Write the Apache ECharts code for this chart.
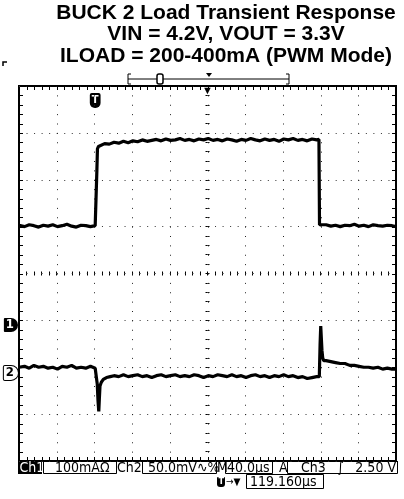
<!DOCTYPE html>
<html><head><meta charset="utf-8">
<script src="https://cdn.jsdelivr.net/npm/echarts@6/dist/echarts.min.js"></script>
<style>html,body{margin:0;padding:0;background:#fff}#c{width:404px;height:499px}</style>
</head><body><div id="c"></div>
<script>
// Scope settings: 40 µs/div over 10 divisions; screen centre sits 119.16 µs after the trigger
const TIME_PER_DIV = 40;
const TRIG_TO_CENTER = 119.16;
// Ch1: load current, 100 mA/div, ground marker 1.1 div below centre
const CH1_PER_DIV = 100, CH1_POS = -1.1;
// Ch2: output voltage (AC), 50 mV/div, ground marker 2.12 div below centre
const CH2_PER_DIV = 50, CH2_POS = -2.12;

// Ch1 load current (time in µs from trigger, current in mA)
const ch1Time = [-80.8,-75,-70,-65,-60,-55,-50,-45,-40,-35,-30,-25,-20,-15,-10,-5,0,1.2,1.8,2.4,3.5,
  5,10,15,20,25,30,35,40,45,50,55,60,65,70,75,80,85,90,95,100,105,110,115,120,125,130,135,140,145,150,
  155,160,165,170,175,180,185,190,195,200,205,210,215,220,225,230,235,237.4,238.0,
  240,245,250,255,260,265,270,275,280,285,290,295,300,305,310,315,319.2];
const ch1Current = [213,210,214,212,209,213,211,214,210,212,215,211,209,213,212,210,212,214,330,376,381,
  384,387,386,390,388,392,389,393,391,395,392,394,396,393,397,394,395,398,394,396,393,397,395,398,394,396,393,397,395,392,
  396,394,398,395,393,397,394,396,392,397,395,398,394,396,393,397,395,396,214,
  212,214,211,213,210,213,212,215,211,213,210,214,212,211,213,212,210];

// Ch2 output voltage deviation (time in µs from trigger, voltage in mV)
const ch2Time = [-80.8,-75,-70,-65,-60,-55,-50,-45,-40,-35,-30,-25,-20,-15,-10,-5,0,
  1.4,2.2,3.0,3.8,4.4,5.1,6.5,8.6,12,16,
  20,25,30,35,40,45,50,55,60,65,70,75,80,85,90,95,100,105,110,115,120,125,130,135,140,145,150,155,
  160,165,170,175,180,185,190,195,200,205,210,215,220,225,230,235,237.8,
  238.6,239.3,239.9,240.6,241.4,242.5,245,250,255,260,265,270,275,280,285,290,295,300,305,310,315,319.2];
const ch2Voltage = [6,7,5,8,6,7,5,6,4,7,6,8,5,6,5,7,5,
  5,-12,-30,-41,-28,-14,-10,-7,-5,-4,
  -3,-4,-2,-4,-3,-2,-4,-3,-5,-3,-2,-4,-3,-2,-4,-3,-4,-2,-3,-5,-3,-4,-2,-3,-4,
  -2,-4,-3,-5,-3,-2,-4,-3,-5,-3,-4,-2,-4,-3,-5,-4,-6,-5,-4,-4,
  30,50,38,24,16,13,13,12,11,10,10,8,8,7,6,6,5,6,4,5,4,4];

// Status readout text
const ch1Scale = '100mA\u03A9';
const ch2Scale = '50.0mV\u223F\u0025';
const timeScale = '40.0\u00B5s';
const trigSource = 'Ch3';
const trigLevel = '2.50 V';
const trigDelay = '119.160\u00B5s';

const toScreenTime = t => t - TRIG_TO_CENTER;
const ch1Data = ch1Time.map((t, i) => [toScreenTime(t), ch1Current[i]]);
const ch2Data = ch2Time.map((t, i) => [toScreenTime(t), ch2Voltage[i]]);

const HALF = 5 * TIME_PER_DIV;
const SUB = 5;               // graticule subdivisions per division
const FONT = '"DejaVu Sans Condensed", "Liberation Sans Narrow", sans-serif';
const tk = () => ({ color: '#000', width: 1 });

// Graticule pieces: 0 = dotted division line (time), 1 = top/bottom edge tick (time), 2 = left/right edge tick (div)
const graticule = [];
for (let k = 1; k < 10; k++) graticule.push([0, -HALF + k * TIME_PER_DIV]);
for (let i = 1; i < 10 * SUB; i++) graticule.push([1, -HALF + i * TIME_PER_DIV / SUB]);
for (let j = 1; j < 8 * SUB; j++) graticule.push([2, -4 + j / SUB]);

// graticule axes live in grid 0, traces and markers in grid 1 (same rectangle)
function timeAxis(extra) {
  return Object.assign({
    gridIndex: 0, type: 'value', min: -HALF, max: HALF, interval: TIME_PER_DIV,
    axisLine: { show: false, onZero: false },
    axisLabel: { show: false },
    splitLine: { show: false },
    axisTick: { show: false },
    minorTick: { show: false }
  }, extra);
}
function divAxis(extra) {
  return Object.assign({
    gridIndex: 0, type: 'value', min: -4, max: 4, interval: 1,
    axisLine: { show: false, onZero: false },
    axisLabel: { show: false },
    splitLine: { show: false },
    axisTick: { show: false },
    minorTick: { show: false }
  }, extra);
}
function centreTicks(inside) {
  return {
    axisLine: { show: false, onZero: true, onZeroAxisIndex: 0 },
    axisTick: { show: true, inside, length: 2, lineStyle: tk() },
    minorTick: { show: true, splitNumber: SUB, length: 2, lineStyle: tk() }
  };
}
function markerTimeAxis(label) {
  return {
    gridIndex: 1, type: 'value', position: 'top', min: -HALF, max: HALF,
    axisLine: { show: false, onZero: false },
    axisTick: { show: false }, minorTick: { show: false }, splitLine: { show: false },
    axisLabel: Object.assign({ show: true, inside: true }, label)
  };
}
function channelAxis(perDiv, pos, label) {
  return {
    gridIndex: 1, type: 'value', position: 'left',
    min: (-4 - pos) * perDiv, max: (4 - pos) * perDiv,
    axisLine: { show: false, onZero: false },
    axisTick: { show: false }, splitLine: { show: false },
    axisLabel: Object.assign({ show: true, customValues: [0], margin: 1,
      fontFamily: FONT, fontSize: 13, fontWeight: 'bold', padding: [1, 4, 0, 2] }, label)
  };
}

// draws one graticule piece through the time / division scales
function renderGraticule(params, api) {
  const cs = params.coordSys;
  const snap = v => Math.round(v) + 0.5;
  const kind = api.value(0), pos = api.value(1);
  const TICK = 4;
  const line = (x1, y1, x2, y2, extra) => ({ type: 'line', shape: { x1, y1, x2, y2 },
    style: Object.assign({ stroke: '#000', lineWidth: 1 }, extra || {}) });
  const top = cs.y, bottom = cs.y + cs.height, left = cs.x, right = cs.x + cs.width;
  if (kind === 0) {
    const x = snap(api.coord([pos, 0])[0]);
    return line(x, top, x, bottom, { stroke: '#222', lineDash: [1, cs.height / (8 * SUB) - 1] });
  }
  if (kind === 1) {
    const x = snap(api.coord([pos, 0])[0]);
    return { type: 'group', children: [line(x, top, x, top + TICK), line(x, bottom, x, bottom - TICK)] };
  }
  const y = snap(api.coord([0, pos])[1]);
  return { type: 'group', children: [line(left, y, left + TICK, y), line(right, y, right - TICK, y)] };
}

const chart = echarts.init(document.getElementById('c'), null, { renderer: 'canvas' });

const status = [];
function txt(x, y, s, opt) {
  status.push({ type: 'text', x, y, style: Object.assign({ text: s, fill: '#000', font: '14px ' + FONT, verticalAlign: 'middle' }, opt || {}) });
}
function openBox(x1, x2, y1, y2) {
  status.push({ type: 'polyline', shape: { points: [[x1, y1], [x1, y2], [x2, y2], [x2, y1]] }, style: { stroke: '#000', lineWidth: 1, fill: null } });
}
// first readout row
status.push({ type: 'rect', shape: { x: 18, y: 461, width: 24, height: 13 }, style: { fill: '#000' } });
txt(19.5, 468, 'Ch1', { fill: '#fff' });
openBox(43.5, 116.5, 461, 473.5);
txt(55, 468, ch1Scale);
txt(117, 468, 'Ch2');
openBox(142.5, 216.5, 461, 473.5);
txt(148, 468, ch2Scale);
txt(217, 468, 'M');
openBox(225.5, 272.5, 461, 473.5);
txt(227, 468, timeScale);
txt(279, 468, 'A');
openBox(287.5, 397.5, 461, 473.5);
txt(301, 468, trigSource);
txt(337, 468, '\u222B');
txt(396, 468, trigLevel, { align: 'right' });
// second readout row
status.push({ type: 'rect', shape: { x: 217, y: 477, width: 8, height: 10, r: [1, 1, 3, 3] }, style: { fill: '#000' } });
txt(218.5, 482, 'T', { fill: '#fff', font: 'bold 9px ' + FONT });
txt(226, 482, '\u2192\u25BC', { font: '10px ' + FONT });
status.push({ type: 'rect', shape: { x: 246.5, y: 474.5, width: 77, height: 14 }, style: { stroke: '#000', lineWidth: 1, fill: null } });
txt(250, 482, trigDelay);

// record window indicator above the graticule
const recordBar = [
  { type: 'polyline', shape: { points: [[131, 74], [128, 74], [128, 84], [131, 84]] }, style: { stroke: '#000', lineWidth: 1, fill: null } },
  { type: 'polyline', shape: { points: [[286, 74], [289, 74], [289, 84], [286, 84]] }, style: { stroke: '#000', lineWidth: 1, fill: null } },
  { type: 'line', shape: { x1: 128, y1: 79, x2: 289, y2: 79 }, style: { stroke: '#000', lineWidth: 1 } },
  { type: 'rect', shape: { x: 157, y: 74, width: 6, height: 10, r: 2 }, style: { fill: '#fff', stroke: '#000', lineWidth: 1.5 } },
  { type: 'polygon', shape: { points: [[206, 73], [212, 73], [209, 77]] }, style: { fill: '#000' } },
  { type: 'polyline', shape: { points: [[3, 66], [3, 62], [7, 62]] }, style: { stroke: '#000', lineWidth: 1.5, fill: null } }
];

const plotRect = { left: 19, top: 86, width: 377, height: 375, outerBoundsMode: 'none', containLabel: false };

chart.setOption({
  animation: false,
  backgroundColor: '#fff',
  title: {
    text: 'BUCK 2 Load Transient Response\nVIN = 4.2V, VOUT = 3.3V\nILOAD = 200-400mA (PWM Mode)',
    left: 226, top: 2, textAlign: 'center', padding: 0,
    textStyle: { fontFamily: '"Liberation Sans", Arial, sans-serif', fontWeight: 'bold', fontSize: 21, lineHeight: 21.5, color: '#000' }
  },
  grid: [
    Object.assign({ show: true, borderColor: '#000', borderWidth: 2 }, plotRect),
    Object.assign({ show: false }, plotRect)
  ],
  xAxis: [
    timeAxis({ position: 'bottom' }),
    timeAxis({ position: 'top' }),
    timeAxis(Object.assign({ position: 'bottom' }, centreTicks(true))),
    timeAxis(Object.assign({ position: 'bottom' }, centreTicks(false))),
    // screen-centre marker on the top edge (also the time axis of the traces)
    markerTimeAxis({ customValues: [0], margin: 0, formatter: () => '\u25BC', fontSize: 11, color: '#000', lineHeight: 9 }),
    // trigger point marker just below the top edge
    markerTimeAxis({ customValues: [-TRIG_TO_CENTER], margin: 7, formatter: () => 'T', fontSize: 11, fontWeight: 'bold',
      color: '#fff', backgroundColor: '#000', padding: [2, 2, 2, 2], borderRadius: [2, 2, 5, 5], fontFamily: FONT })
  ],
  yAxis: [
    divAxis({ position: 'left',
      splitLine: { show: true, lineStyle: { color: '#333', width: 1, type: [1, 6.54] } } }),
    divAxis({ position: 'right' }),
    divAxis(Object.assign({ position: 'left' }, centreTicks(true))),
    divAxis(Object.assign({ position: 'left' }, centreTicks(false))),
    channelAxis(CH1_PER_DIV, CH1_POS, { formatter: () => '1', color: '#fff', backgroundColor: '#000', borderRadius: [1, 7, 7, 1] }),
    channelAxis(CH2_PER_DIV, CH2_POS, { formatter: () => '2', color: '#000', backgroundColor: '#fff', borderColor: '#000', borderWidth: 1, borderRadius: [1, 7, 7, 1] }),
    // division scale for the graticule pieces drawn alongside the traces
    { gridIndex: 1, type: 'value', position: 'right', min: -4, max: 4, show: false, axisLine: { show: false, onZero: false } }
  ],
  series: [
    { name: 'graticule', type: 'custom', xAxisIndex: 4, yAxisIndex: 6, data: graticule,
      renderItem: renderGraticule, silent: true, z: 3, clip: false },
    { name: 'Ch1', type: 'line', xAxisIndex: 4, yAxisIndex: 4, data: ch1Data, showSymbol: false,
      lineStyle: { color: '#000', width: 3.2 }, z: 5 },
    { name: 'Ch2', type: 'line', xAxisIndex: 4, yAxisIndex: 5, data: ch2Data, showSymbol: false,
      lineStyle: { color: '#000', width: 3.2 }, z: 5 }
  ],
  graphic: [].concat(recordBar, status)
});
</script></body></html>
